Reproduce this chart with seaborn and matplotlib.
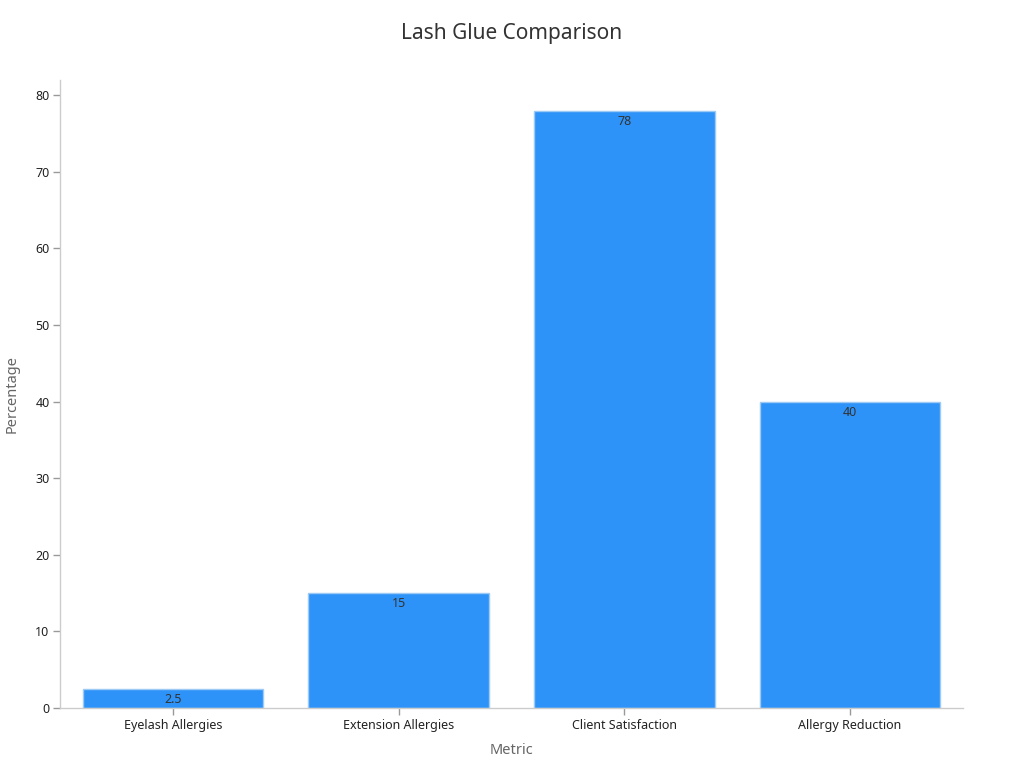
import matplotlib
matplotlib.use("Agg")
import matplotlib.pyplot as plt
import seaborn as sns
import pandas as pd

# Chart data
metrics = ["Eyelash Allergies", "Extension Allergies", "Client Satisfaction", "Allergy Reduction"]
percentages = [2.5, 15, 78, 40]
label_texts = ["2.5", "15", "78", "40"]

sns.set_theme(style="white")
plt.rcParams['font.family'] = ['Noto Sans', 'DejaVu Sans']

df = pd.DataFrame({"Metric": metrics, "Percentage": percentages})

fig = plt.figure(figsize=(10.24, 7.68), dpi=100)
ax = fig.add_axes([0.0586, 0.078, 0.8818, 0.818])

sns.barplot(data=df, x="Metric", y="Percentage", color="#2E93F8", saturation=1,
            width=0.8, edgecolor="#9ccaf5", linewidth=1, ax=ax)

# value labels just inside the top of each bar
for patch, txt in zip(ax.patches, label_texts):
    ax.annotate(txt, (patch.get_x() + patch.get_width() / 2, patch.get_height()),
                xytext=(0, -3), textcoords="offset points",
                ha="center", va="top", fontsize=9, color="#333333")

ax.set_xlim(-0.5, 3.5)
ax.set_ylim(0, 82)
ax.set_yticks(range(0, 81, 10))

sns.despine(ax=ax)
for side in ["left", "bottom"]:
    ax.spines[side].set_color("#cccccc")
    ax.spines[side].set_linewidth(1)

ax.tick_params(axis="both", which="major", length=5, width=1, color="#999999",
               labelsize=9, labelcolor="#222222", bottom=True, left=True, pad=2.5)

ax.set_xlabel("Metric", fontsize=10.5, color="#666666", labelpad=8)
ax.set_ylabel("Percentage", fontsize=10.5, color="#666666", labelpad=11)
fig.suptitle("Lash Glue Comparison", fontsize=15, color="#333333", y=0.97)

fig.savefig("out.png", dpi=100)
